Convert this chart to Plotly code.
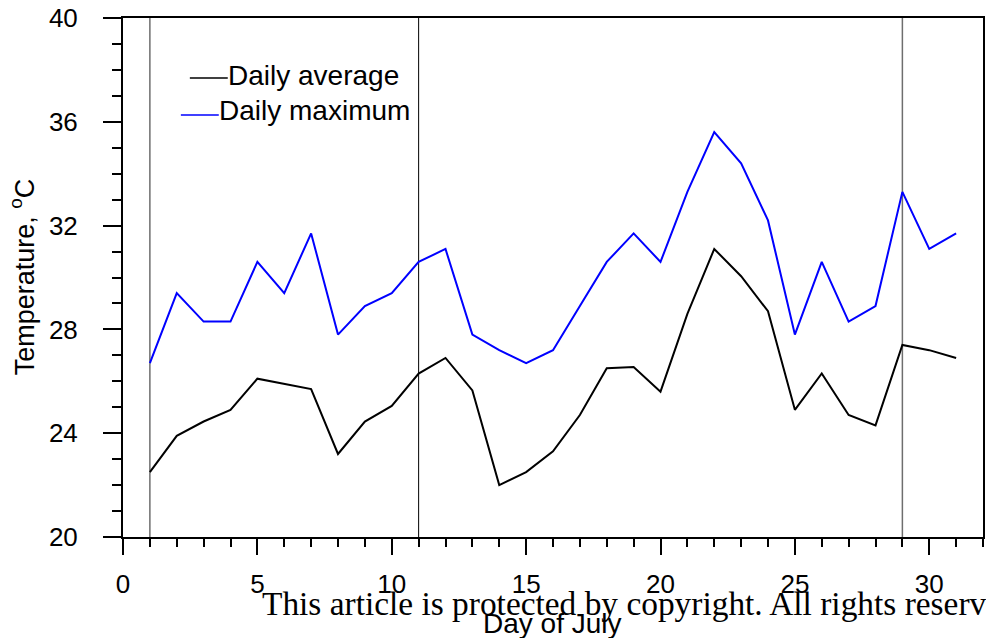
import plotly.graph_objects as go

# Daily temperatures for July (deg C)
days = list(range(1, 32))
daily_average = [22.5, 23.9, 24.45, 24.9, 26.1, 25.9, 25.7, 23.2, 24.45, 25.05,
                 26.3, 26.9, 25.65, 22.0, 22.5, 23.3, 24.7, 26.5, 26.55, 25.6,
                 28.6, 31.1, 30.05, 28.7, 24.9, 26.3, 24.7, 24.3, 27.4, 27.2, 26.9]
daily_maximum = [26.7, 29.4, 28.3, 28.3, 30.6, 29.4, 31.7, 27.8, 28.9, 29.4,
                 30.6, 31.1, 27.8, 27.2, 26.7, 27.2, 28.9, 30.6, 31.7, 30.6,
                 33.3, 35.6, 34.4, 32.2, 27.8, 30.6, 28.3, 28.9, 33.3, 31.1, 31.7]

# Days marked with vertical reference lines
marked_days = [1, 11, 29]
marked_colors = ["#6e6e6e", "#000000", "#6e6e6e"]
marked_widths = [1.5, 1, 1.5]

W, H = 986, 638
L, R, T, B = 123, 1, 18, 101
PW, PH = W - L - R, H - T - B


def px(xpix):
    return (xpix - L) / PW


def py(ypix):
    return (H - B - ypix) / PH


sans = "Liberation Sans, Arial, Helvetica, sans-serif"

fig = go.Figure()
fig.add_trace(go.Scatter(x=days, y=daily_average, mode="lines",
                         line=dict(color="black", width=2), showlegend=False))
fig.add_trace(go.Scatter(x=days, y=daily_maximum, mode="lines",
                         line=dict(color="#0000ff", width=2), showlegend=False))

for d, c, w in zip(marked_days, marked_colors, marked_widths):
    fig.add_shape(type="line", xref="x", yref="paper", x0=d, x1=d, y0=0, y1=1,
                  line=dict(color=c, width=w), layer="below")

# Legend keys drawn inside the plot
legend_items = [("Daily average", "black", 190, 228, 78, 75),
                ("Daily maximum", "#0000ff", 181, 219, 115, 111)]
for label, color, x0, x1, yl, yt in legend_items:
    fig.add_shape(type="line", xref="paper", yref="paper",
                  x0=px(x0), x1=px(x1), y0=py(yl), y1=py(yl),
                  line=dict(color=color, width=1.5))
    fig.add_annotation(text=label, xref="paper", yref="paper", x=px(x1 - 2), y=py(yt),
                       xanchor="left", yanchor="middle", showarrow=False,
                       font=dict(family=sans, size=28, color="black"))

fig.add_annotation(text="This article is protected by copyright. All rights reserved.",
                   xref="paper", yref="paper", x=px(260), y=py(603),
                   xanchor="left", yanchor="middle", showarrow=False,
                   font=dict(family="Liberation Serif, Times New Roman, serif",
                             size=33.4, color="black"))

fig.add_annotation(text="Day of July", xref="paper", yref="paper",
                   x=px(553), y=py(623), xanchor="center", yanchor="middle",
                   showarrow=False, font=dict(family=sans, size=28, color="black"))

fig.add_annotation(text="Temperature, <sup>o</sup>C", xref="paper", yref="paper",
                   x=px(22), y=py(277), xanchor="center", yanchor="middle",
                   textangle=-90, showarrow=False,
                   font=dict(family=sans, size=27, color="black"))

fig.update_xaxes(range=[0, 32], tick0=0, dtick=5, ticks="outside", ticklen=16,
                 tickwidth=2, tickcolor="black", showline=True, linecolor="black",
                 linewidth=2, mirror=True, showgrid=False, zeroline=False,
                 ticklabelstandoff=7,
                 tickfont=dict(family=sans, size=26, color="black"),
                 minor=dict(dtick=1, tick0=0, ticks="outside", ticklen=8,
                            tickwidth=1.5, tickcolor="black", showgrid=False))
fig.update_yaxes(range=[20, 40], tick0=20, dtick=4, ticks="outside", ticklen=18,
                 tickwidth=2, tickcolor="black", showline=True, linecolor="black",
                 linewidth=2, mirror=True, showgrid=False, zeroline=False,
                 ticklabelstandoff=20,
                 tickfont=dict(family=sans, size=26, color="black"),
                 minor=dict(dtick=1, tick0=20, ticks="outside", ticklen=9,
                            tickwidth=1.5, tickcolor="black", showgrid=False))

fig.update_layout(width=W, height=H, margin=dict(l=L, r=R, t=T, b=B, pad=0),
                  plot_bgcolor="white", paper_bgcolor="white", showlegend=False)

fig.write_html("out.html")
